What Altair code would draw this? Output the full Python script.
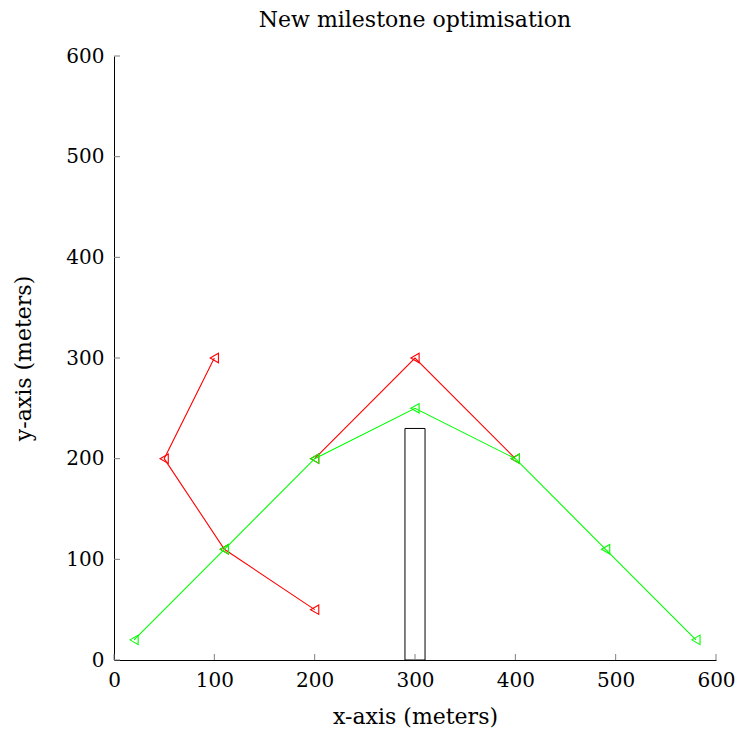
import altair as alt
import pandas as pd

# Data
red1_x = [100, 50, 110, 200]
red1_y = [300, 200, 110, 50]
red2_x = [200, 300, 400]
red2_y = [200, 300, 200]
green_x = [20, 110, 200, 300, 400, 490, 580]
green_y = [20, 110, 200, 250, 200, 110, 20]
obst_x = [290]
obst_x2 = [310]
obst_y = [0]
obst_y2 = [230]
tick_values = [0, 100, 200, 300, 400, 500, 600]

def frame(xs_, ys_):
    return pd.DataFrame({"x": xs_, "y": ys_, "order": list(range(len(xs_)))})

obst = pd.DataFrame({"x": obst_x, "x2": obst_x2, "y": obst_y, "y2": obst_y2})
ticks = pd.DataFrame({"t": tick_values})

W, H = 602, 604
xs = alt.Scale(domain=[0, 600], nice=False)
ys = alt.Scale(domain=[0, 600], nice=False)

xaxis = alt.Axis(values=tick_values, title="x-axis (meters)", grid=False, tickSize=0,
                 labelPadding=10, titlePadding=16, domainColor="black", labelColor="black",
                 titleColor="black", labelFontSize=20, titleFontSize=22, titleFontWeight="normal",
                 labelFlush=False)
yaxis = alt.Axis(values=tick_values, title="y-axis (meters)", grid=False, tickSize=0,
                 labelPadding=10, titlePadding=30, domainColor="black", labelColor="black",
                 titleColor="black", labelFontSize=20, titleFontSize=22, titleFontWeight="normal",
                 labelFlush=False)

xticks = alt.Chart(ticks).mark_rule(color="#808080", strokeWidth=1).encode(
    x=alt.X("t:Q", scale=xs, axis=xaxis),
    y=alt.value(H), y2=alt.value(H - 6),
)
yticks = alt.Chart(ticks).mark_rule(color="#808080", strokeWidth=1).encode(
    y=alt.Y("t:Q", scale=ys, axis=yaxis),
    x=alt.value(0), x2=alt.value(6),
)

rect = alt.Chart(obst).mark_rect(fill=None, fillOpacity=0, stroke="black", strokeWidth=1).encode(
    x=alt.X("x:Q", scale=xs), x2="x2:Q",
    y=alt.Y("y:Q", scale=ys), y2="y2:Q",
)

def series(xs_, ys_, col):
    d = frame(xs_, ys_)
    ln = alt.Chart(d).mark_line(strokeWidth=1.1, color=col).encode(
        x=alt.X("x:Q", scale=xs),
        y=alt.Y("y:Q", scale=ys),
        order="order:Q",
    )
    pt = alt.Chart(d).mark_point(shape="triangle-left", filled=False, size=90, strokeWidth=1.1,
                                 opacity=1, color=col).encode(
        x=alt.X("x:Q", scale=xs),
        y=alt.Y("y:Q", scale=ys),
    )
    return [ln, pt]

layers = [rect, xticks, yticks]
layers += series(red1_x, red1_y, "#ff0000")
layers += series(red2_x, red2_y, "#ff0000")
layers += series(green_x, green_y, "#00ff00")

chart = alt.layer(*layers).properties(
    width=W, height=H,
    title=alt.TitleParams("New milestone optimisation", fontSize=22, fontWeight="normal", color="black", offset=14),
    autosize=alt.AutoSizeParams(type="none"),
    padding={"left": 106, "top": 48, "right": 20, "bottom": 70},
).configure(font="DejaVu Serif").configure_view(stroke=None)

chart.save("out.html", embed_options={"renderer": "svg", "actions": False})
